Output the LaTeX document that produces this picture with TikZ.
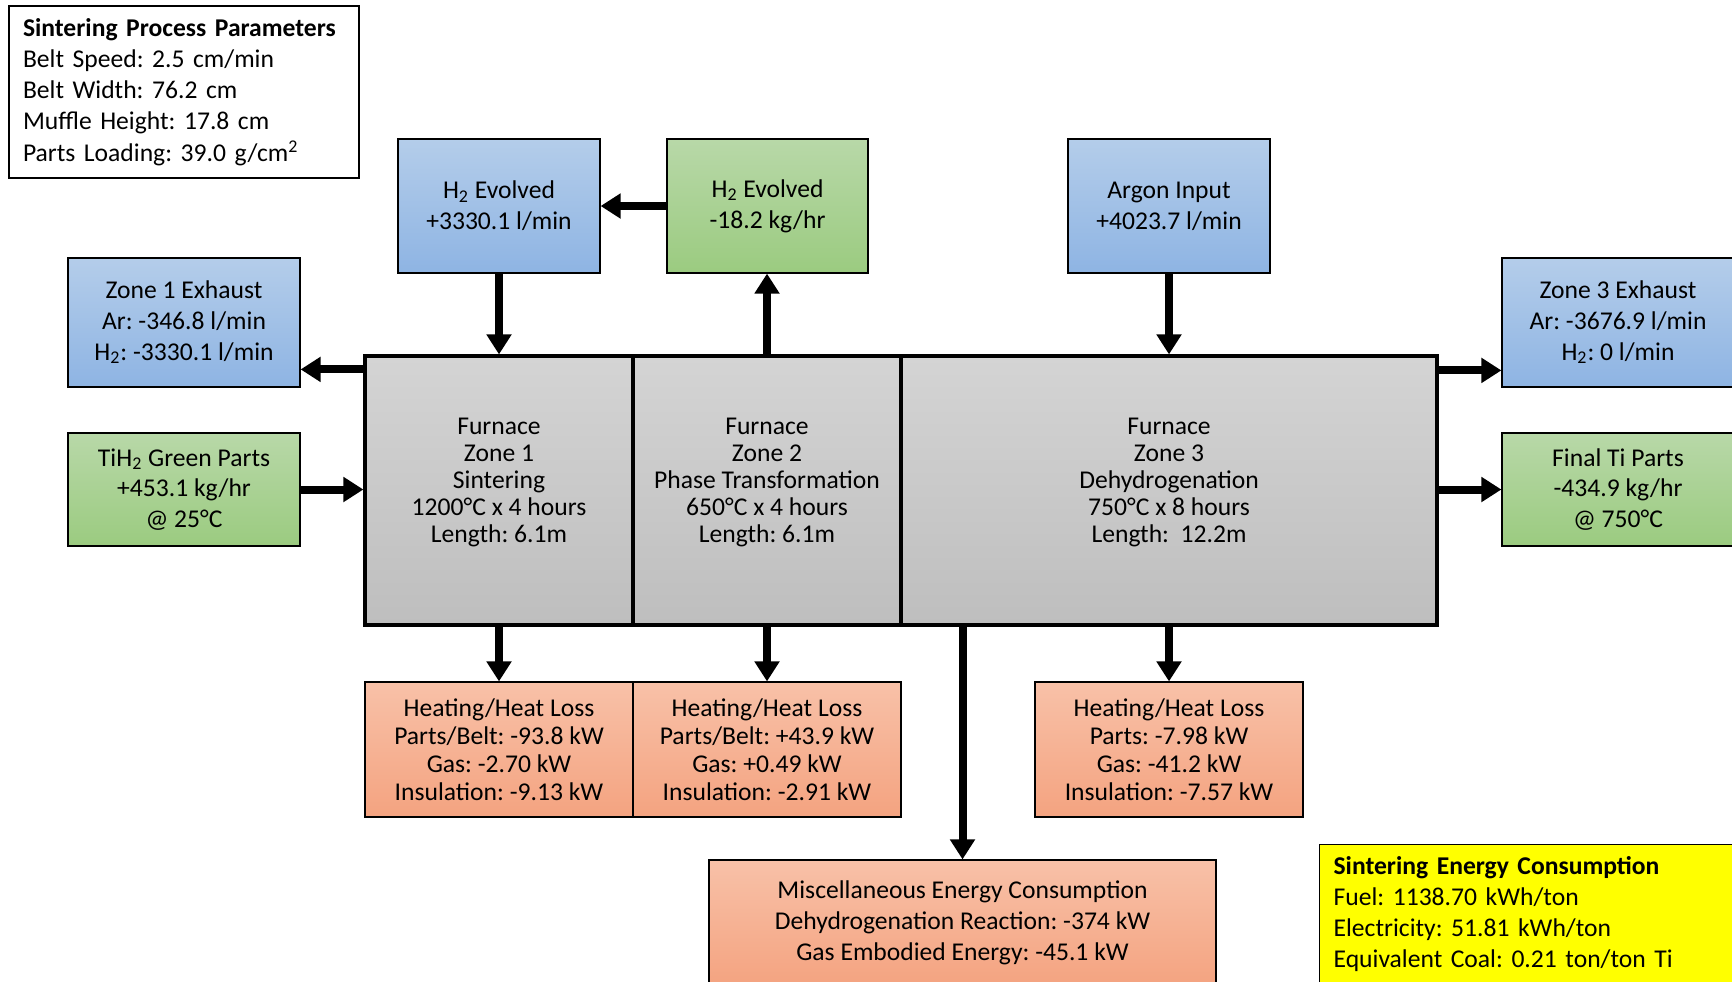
\documentclass[tikz,border=0pt]{standalone}
\usepackage{fontspec}
\setmainfont{Carlito}
\usepackage{xcolor}
\usetikzlibrary{positioning, arrows.meta}
\frenchspacing

\definecolor{blueTop}{HTML}{B4CDEA}
\definecolor{blueBot}{HTML}{8EB4E3}
\definecolor{greenTop}{HTML}{B8D8A8}
\definecolor{greenBot}{HTML}{9BCB80}
\definecolor{salmonTop}{HTML}{F8C1A8}
\definecolor{salmonBot}{HTML}{F4A380}
\definecolor{greyTop}{HTML}{D4D4D4}
\definecolor{greyBot}{HTML}{BEBEBE}
\definecolor{noteYellow}{HTML}{FFFF00}

\begin{document}
\begin{tikzpicture}[
    x=0.5pt, y=-0.5pt,
    box/.style={draw, line width=0.6pt, align=center, inner sep=0pt,
        font=\fontsize{12.8}{15.4}\selectfont},
    gasbox/.style={box, top color=blueTop, bottom color=blueBot},
    partbox/.style={box, top color=greenTop, bottom color=greenBot},
    heatbox/.style={box, top color=salmonTop, bottom color=salmonBot,
        font=\fontsize{12.8}{14}\selectfont},
    zone/.style={draw, line width=1.6pt, top color=greyTop, bottom color=greyBot,
        inner sep=0pt, minimum height=134.5pt},
    zonetext/.style={align=center, font=\fontsize{12.8}{13.4}\selectfont},
    note/.style={draw, line width=0.6pt, align=left, inner xsep=7pt, inner ysep=0pt,
        font=\fontsize{12.8}{15.6}\selectfont},
    flow/.style={line width=4pt, -{Triangle[length=10pt, width=12pt]}},
]
\useasboundingbox (0,0) rectangle (1732,981);
\clip (0,0) rectangle (1732,981);

% Parameters
\node[note, fill=white, minimum width=175pt, minimum height=86pt, text width=161pt]
    (params) at (184,92)
    {\textbf{Sintering Process Parameters}\\Belt Speed: 2.5 cm/min\\Belt Width: 76.2 cm\\
     Muffle Height: 17.8 cm\\Parts Loading: 39.0 g/cm\textsuperscript{2}};

% Furnace zones
\node[zone, minimum width=134pt] (zone1) at (499,490.5) {};
\node[zone, minimum width=134pt] (zone2) at (767,490.5) {};
\node[zone, minimum width=268pt] (zone3) at (1169,490.5) {};
\node[zonetext] at ([yshift=4pt]zone1.center)
    {Furnace\\Zone 1\\Sintering\\1200°C x 4 hours\\Length: 6.1m};
\node[zonetext] at ([yshift=4pt]zone2.center)
    {Furnace\\Zone 2\\Phase Transformation\\650°C x 4 hours\\Length: 6.1m};
\node[zonetext] at ([yshift=4pt]zone3.center)
    {Furnace\\Zone 3\\Dehydrogenation\\750°C x 8 hours\\Length:~~12.2m};

% Gas streams
\node[gasbox, minimum width=101pt, minimum height=67pt] (h2in) at (499,206)
    {H\textsubscript{2} Evolved\\+3330.1 l/min};
\node[partbox, minimum width=100.5pt, minimum height=67pt] (h2out) at (767.5,206)
    {H\textsubscript{2} Evolved\\-18.2 kg/hr};
\node[gasbox, minimum width=101pt, minimum height=67pt] (argon) at (1169,206)
    {Argon Input\\+4023.7 l/min};
\node[gasbox, minimum width=116pt, minimum height=64.5pt] (ex1) at (184,322.5)
    {Zone 1 Exhaust\\Ar: -346.8 l/min\\H\textsubscript{2}: -3330.1 l/min};
\node[gasbox, minimum width=116pt, minimum height=64.5pt] (ex3) at (1618,322.5)
    {Zone 3 Exhaust\\Ar: -3676.9 l/min\\H\textsubscript{2}: 0 l/min};

% Parts
\node[partbox, minimum width=116pt, minimum height=56.5pt] (tih2) at (184,489.5)
    {TiH\textsubscript{2} Green Parts\\+453.1 kg/hr\\@ 25°C};
\node[partbox, minimum width=116pt, minimum height=56.5pt] (final) at (1618,489.5)
    {Final Ti Parts\\-434.9 kg/hr\\@ 750°C};

% Heat losses
\node[heatbox, minimum width=134pt, minimum height=67.5pt] (heat1) at (499,749.5)
    {Heating/Heat Loss\\Parts/Belt: -93.8 kW\\Gas: -2.70 kW\\Insulation: -9.13 kW};
\node[heatbox, minimum width=134pt, minimum height=67.5pt] (heat2) at (767,749.5)
    {Heating/Heat Loss\\Parts/Belt: +43.9 kW\\Gas: +0.49 kW\\Insulation: -2.91 kW};
\node[heatbox, minimum width=134pt, minimum height=67.5pt] (heat3) at (1169,749.5)
    {Heating/Heat Loss\\Parts: -7.98 kW\\Gas: -41.2 kW\\Insulation: -7.57 kW};
\node[heatbox, minimum width=253.5pt, minimum height=63pt,
    font=\fontsize{12.8}{15.5}\selectfont] (misc) at (962.5,923)
    {Miscellaneous Energy Consumption\\Dehydrogenation Reaction: -374 kW\\
     Gas Embodied Energy: -45.1 kW};

% Energy summary
\node[note, fill=noteYellow, anchor=north west, minimum width=213pt,
    minimum height=69.5pt, text width=199pt] (energy) at (1319,844)
    {\textbf{Sintering Energy Consumption}\\Fuel: 1138.70 kWh/ton\\
     Electricity: 51.81 kWh/ton\\Equivalent Coal: 0.21 ton/ton Ti};

% Flows
\coordinate (z1out) at ([yshift=-7.5pt]zone1.north west);
\coordinate (z3out) at ([yshift=-8pt]zone3.north east);
\draw[flow] (h2in.south) -- (zone1.north);
\draw[flow] (zone2.north) -- (zone2.north |- h2out.south);
\draw[flow] (h2out.west) -- (h2in.east);
\draw[flow] (argon.south) -- (zone3.north);
\draw[flow] (z1out) -- (z1out -| ex1.east);
\draw[flow] (z3out) -- (z3out -| ex3.west);
\draw[flow] (tih2.east) -- (tih2.east -| zone1.west);
\draw[flow] (zone3.east |- final.west) -- (final.west);
\draw[flow] (zone1.south) -- (heat1.north);
\draw[flow] (zone2.south) -- (heat2.north);
\draw[flow] (heat3.north |- zone3.south) -- (heat3.north);
\draw[flow] (misc.north |- zone3.south) -- (misc.north);
\end{tikzpicture}
\end{document}
